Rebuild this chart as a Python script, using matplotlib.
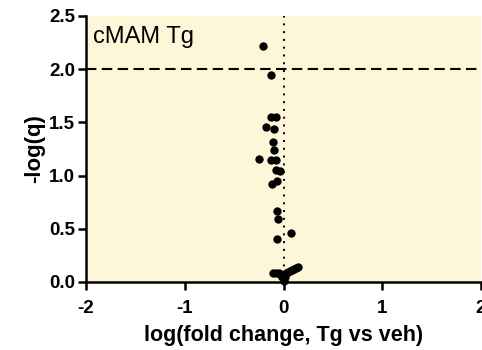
import matplotlib
matplotlib.use("Agg")
import matplotlib.pyplot as plt

plt.rcParams['font.family'] = ['Liberation Sans', 'DejaVu Sans']

# data: log(fold change) and -log(q)
log_fc = [-0.21, -0.13, -0.13, -0.08, -0.18, -0.10, -0.11, -0.10, -0.25, -0.13, -0.08,
          -0.08, -0.04, -0.07, -0.12, -0.07, -0.06, -0.07, 0.08,
          -0.11, -0.08, -0.05, -0.03, -0.01, 0.01, 0.03, 0.05, 0.07, 0.09, 0.11, 0.13, 0.15,
          0.0, 0.0, -0.02, 0.02]
neg_log_q = [2.22, 1.95, 1.55, 1.55, 1.46, 1.44, 1.32, 1.24, 1.16, 1.15, 1.15,
             1.05, 1.04, 0.95, 0.92, 0.67, 0.59, 0.40, 0.46,
             0.08, 0.08, 0.08, 0.07, 0.06, 0.07, 0.08, 0.09, 0.10, 0.11, 0.12, 0.13, 0.14,
             0.03, 0.01, 0.05, 0.05]

x_ticks = [-2, -1, 0, 1, 2]
y_ticks = [0.0, 0.5, 1.0, 1.5, 2.0, 2.5]
q_threshold = 2.0
title = "cMAM Tg"

fig = plt.figure(figsize=(4.82, 3.5), dpi=100)
ax = fig.add_axes([86/482, 68/350, 395/482, 266/350])
ax.set_facecolor('#fdf6d8')

ax.scatter(log_fc, neg_log_q, s=36, color='black', zorder=5, clip_on=False, linewidths=0)
ax.axhline(q_threshold, color='black', lw=1.5, ls=(0, (5, 2.6)), zorder=3)
ax.axvline(0, color='black', lw=1.4, ls=(0, (1, 3)), zorder=3)

ax.set_xlim(-2, 2)
ax.set_ylim(0, 2.5)
ax.set_xticks(x_ticks)
ax.set_yticks(y_ticks)
ax.set_xticklabels([str(t) for t in x_ticks])
ax.set_yticklabels([f"{t:.1f}" for t in y_ticks])

for side in ['top', 'right']:
    ax.spines[side].set_visible(False)
for side in ['left', 'bottom']:
    ax.spines[side].set_linewidth(1.8)

ax.tick_params(axis='both', width=1.8, length=6, direction='out')
ax.tick_params(axis='x', pad=7, labelsize=13.5)
ax.tick_params(axis='y', pad=2, labelsize=13.5)
for lab in ax.get_xticklabels() + ax.get_yticklabels():
    lab.set_fontweight('bold')

ax.set_xlabel("log(fold change, Tg vs veh)", fontsize=15.5, fontweight='bold', labelpad=6)
ax.set_ylabel("-log(q)", fontsize=16, fontweight='bold', labelpad=3)

ax.text(0.018, 0.897, title, transform=ax.transAxes, fontsize=17, va='baseline', ha='left')

fig.savefig("out.png", dpi=100)
